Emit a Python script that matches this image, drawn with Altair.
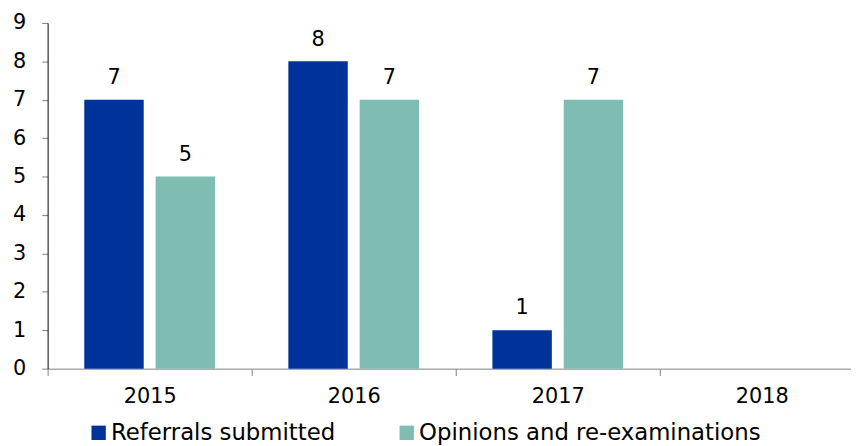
import altair as alt
import pandas as pd

years = ["2015", "2016", "2017", "2018"]
series = ["Referrals submitted", "Opinions and re-examinations"]
referrals = [7, 8, 1, None]
opinions = [5, 7, 7, None]
colors = ["#003399", "#7FBCB2"]

rows = []
for y, r, o in zip(years, referrals, opinions):
    if r is not None:
        rows.append({"year": y, "series": series[0], "value": r})
    if o is not None:
        rows.append({"year": y, "series": series[1], "value": o})
df = pd.DataFrame(rows)

FONT = "DejaVu Sans"

x = alt.X("year:N", scale=alt.Scale(domain=years, paddingInner=0, paddingOuter=0),
          axis=alt.Axis(title=None, labelAngle=0, tickBand="extent", domainColor="#7f7f7f",
                        tickColor="#7f7f7f", tickSize=7, labelPadding=10, labelFontSize=21,
                        labelFont=FONT, labelColor="#000000", grid=False))
xo = alt.XOffset("series:N", scale=alt.Scale(domain=series, paddingInner=0.1667, paddingOuter=0.514))
y = alt.Y("value:Q", scale=alt.Scale(domain=[0, 9], nice=False),
          axis=alt.Axis(title=None, values=list(range(10)), domainColor="#000000",
                        tickColor="#7f7f7f", tickSize=6, labelPadding=16, labelFontSize=21,
                        labelFont=FONT, labelColor="#000000", grid=False, labelOverlap=False))

bars = alt.Chart(df).mark_bar().encode(
    x=x, xOffset=xo, y=y,
    color=alt.Color("series:N", scale=alt.Scale(domain=series, range=colors),
                    legend=alt.Legend(title=None, orient="none", legendX=40, legendY=402,
                                      direction="horizontal", symbolType="square",
                                      symbolSize=210, symbolStrokeWidth=0, labelFontSize=23,
                                      labelFont=FONT, labelColor="#000000", labelOffset=1,
                                      columnPadding=60, labelLimit=500)),
)

labels = alt.Chart(df).mark_text(baseline="alphabetic", dy=-16, fontSize=21, font=FONT,
                                 color="#000000").encode(
    x=x, xOffset=xo, y=y,
    text=alt.Text("value:Q"),
)

chart = (bars + labels).properties(
    width=824, height=349,
    autosize=alt.AutoSizeParams(type="none"),
    padding={"left": 40, "top": 13, "right": -13, "bottom": 76},
).configure_view(stroke=None)

chart.save("out.html", embed_options={"renderer": "svg", "actions": False})
